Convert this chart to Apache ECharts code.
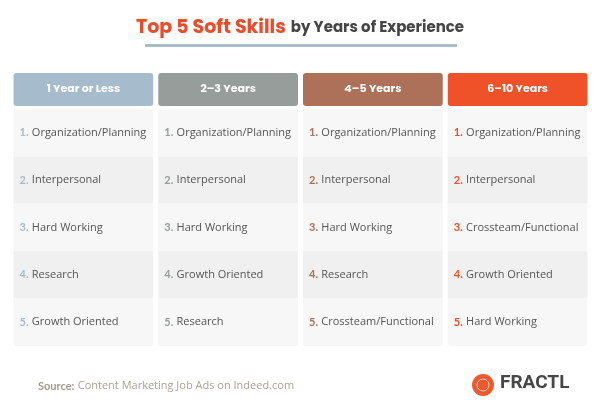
<!DOCTYPE html>
<html>
<head>
<meta charset="utf-8">
<script src="https://cdn.jsdelivr.net/npm/echarts@6/dist/echarts.min.js"></script>
<style>html,body{margin:0;background:#fff}#chart{width:600px;height:411px}</style>
</head>
<body>
<div id="chart"></div>
<script>
// columns / headers
const groups = ['1 Year or Less', '2–3 Years', '4–5 Years', '6–10 Years'];
const groupColors = ['#a6bccc', '#979d9b', '#ad7159', '#ef5128'];
// top 5 per group, ranked
const skills = [
    ['Organization/Planning', 'Interpersonal', 'Hard Working', 'Research', 'Growth Oriented'],
    ['Organization/Planning', 'Interpersonal', 'Hard Working', 'Growth Oriented', 'Research'],
    ['Organization/Planning', 'Interpersonal', 'Hard Working', 'Research', 'Crossteam/Functional'],
    ['Organization/Planning', 'Interpersonal', 'Crossteam/Functional', 'Growth Oriented', 'Hard Working']
];
const ranks = ['1', '2', '3', '4', '5'];

let chart = echarts.init(document.getElementById('chart'));

let headerData = groups.map((g, i) => [i, 0, g]);
let bodyData = [];
skills.forEach((list, c) => {
    list.forEach((s, r) => bodyData.push([c, r, s]));
});

chart.setOption({
    animation: false,
    title: {
        left: 'center',
        top: 14,
        text: '{a|Top 5 Soft Skills} {b|by Years of Experience}',
        textStyle: {
            rich: {
                a: { fontFamily: 'Poppins, Lato', fontWeight: 'bold', fontSize: 19, color: '#ec4b2a' },
                b: { fontFamily: 'Poppins, Lato', fontWeight: 'bold', fontSize: 15, color: '#454545' }
            }
        }
    },
    grid: [
        { left: 11, right: 10, top: 73, height: 33 },
        { left: 11, right: 10, top: 109, height: 237 }
    ],
    xAxis: [
        { gridIndex: 0, type: 'category', data: groups, show: false },
        { gridIndex: 1, type: 'category', data: groups, show: false }
    ],
    yAxis: [
        { gridIndex: 0, type: 'category', data: ['h'], show: false },
        { gridIndex: 1, type: 'category', data: ranks, inverse: true, show: false }
    ],
    series: [{
        type: 'custom',
        xAxisIndex: 0,
        yAxisIndex: 0,
        data: headerData,
        renderItem: (params, api) => {
            let p = api.coord([api.value(0), api.value(1)]);
            let w = api.size([1, 1]);
            let bw = w[0] - 5;
            return {
                type: 'group',
                children: [{
                    type: 'rect',
                    shape: { x: p[0] - bw / 2, y: p[1] - w[1] / 2, width: bw, height: w[1], r: 3 },
                    style: { fill: groupColors[params.dataIndex] }
                }, {
                    type: 'text',
                    style: {
                        x: p[0], y: p[1], text: groups[params.dataIndex],
                        align: 'center', verticalAlign: 'middle',
                        fill: '#fff', font: 'bold 11px Poppins, Lato'
                    }
                }]
            };
        }
    }, {
        type: 'custom',
        xAxisIndex: 1,
        yAxisIndex: 1,
        data: bodyData,
        renderItem: (params, api) => {
            let c = api.value(0), r = api.value(1);
            let p = api.coord([c, r]);
            let w = api.size([1, 1]);
            let bw = w[0] - 5;
            let x0 = p[0] - bw / 2;
            return {
                type: 'group',
                children: [{
                    type: 'rect',
                    shape: { x: x0, y: p[1] - w[1] / 2, width: bw, height: w[1], r: r == 4 ? [0, 0, 3, 3] : 0 },
                    style: { fill: r % 2 == 0 ? '#f7f7f7' : '#f0f0f0' }
                }, {
                    type: 'text',
                    style: {
                        x: x0 + 6, y: p[1],
                        text: '{n|' + ranks[r] + '.} {t|' + skills[c][r] + '}',
                        verticalAlign: 'middle',
                        rich: {
                            n: { font: 'bold 11px Lato', fill: groupColors[c] },
                            t: { font: '11px "Open Sans"', fill: '#555' }
                        }
                    }
                }]
            };
        }
    }],
    graphic: [{
        type: 'rect',
        shape: { x: 145, y: 44, width: 312, height: 3 },
        style: { fill: '#a9bccb' }
    }, {
        type: 'text',
        left: 38, top: 380,
        style: {
            text: '{a|Source:} {b|Content Marketing Job Ads on Indeed.com}',
            rich: {
                a: { font: 'bold 11px Lato', fill: '#a29a8d' },
                b: { font: '11px "Open Sans"', fill: '#aaa498' }
            }
        }
    }, {
        type: 'circle',
        shape: { cx: 483, cy: 385, r: 11 },
        style: { fill: '#ee5a2f' }
    }, {
        type: 'circle',
        shape: { cx: 483, cy: 385, r: 6 },
        style: { fill: 'none', stroke: '#fbd0c0', lineWidth: 1 }
    }, {
        type: 'text',
        left: 500, top: 374,
        style: { text: 'FRACTL', font: 'bold 19px Roboto', fill: '#474747' }
    }]
});
</script>
</body>
</html>
